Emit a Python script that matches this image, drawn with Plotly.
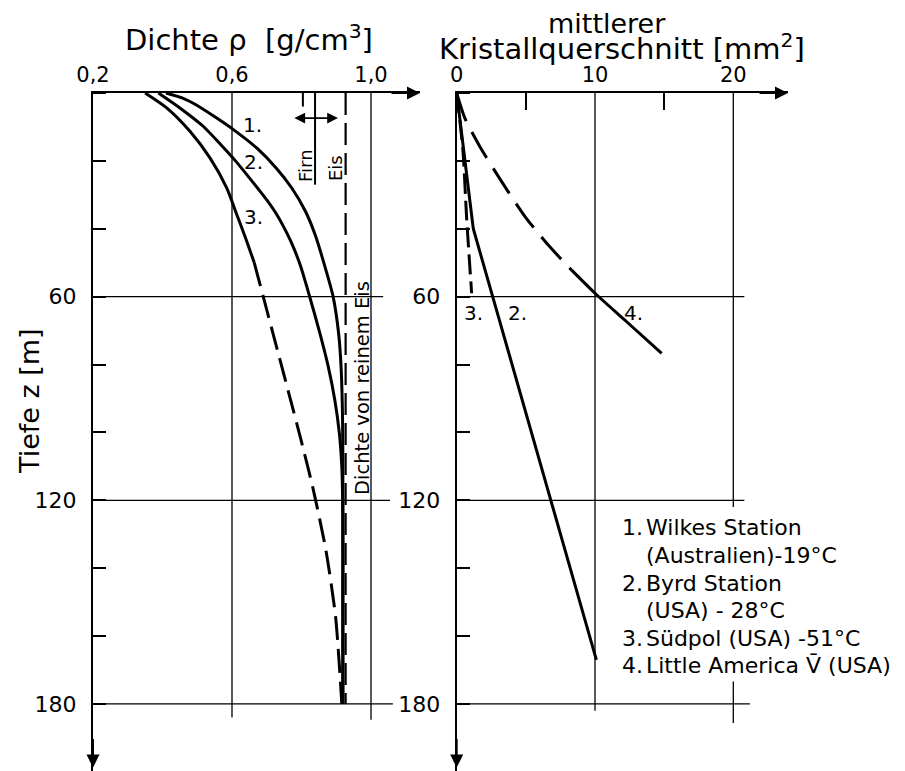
import plotly.graph_objects as go

# ---------------- data ----------------
# left panel: density rho [g/cm3] vs depth z [m]
wilkes_depth = [0, 1.5, 3.4, 7.4, 10.8, 16.2, 22.1, 28, 35, 42, 51, 60, 71, 81, 95, 110, 130, 155, 180]
wilkes_density = [0.41, 0.458, 0.495, 0.556, 0.604, 0.671, 0.727, 0.772, 0.812, 0.840, 0.867, 0.891, 0.907, 0.914, 0.918, 0.919, 0.919, 0.919, 0.919]

byrd_depth = [0, 4.4, 9.8, 15.7, 20, 25, 31.5, 36, 41.3, 46, 51.2, 59.8, 70.8, 80.6, 90.5, 100.3, 110, 125, 150, 180]
byrd_density = [0.388, 0.45, 0.517, 0.572, 0.61, 0.65, 0.70, 0.73, 0.758, 0.779, 0.798, 0.823, 0.853, 0.877, 0.896, 0.909, 0.916, 0.919, 0.919, 0.919]

suedpol_depth_solid = [0, 4.4, 11.3, 19.2, 28, 35.9, 42.7, 50]
suedpol_density_solid = [0.35, 0.412, 0.479, 0.537, 0.585, 0.614, 0.639, 0.664]
suedpol_depth_dashed = [50, 60, 72.8, 87.5, 102, 116, 134.6, 154.3, 180]
suedpol_density_dashed = [0.664, 0.690, 0.723, 0.761, 0.798, 0.832, 0.870, 0.898, 0.916]

ice_density = 0.927
ice_line_depth = [0, 180]
firn_boundary = 0.839
firn_line_depth = [0, 27]
firn_tick = 0.804
firn_tick_depth = [0, 4]
firn_arrow = [0.775, 0.905]
firn_arrow_depth = 7.4

# right panel: mean crystal cross-section [mm2] vs depth z [m]
byrd_xs_depth = [0, 40, 167]
byrd_xs = [0, 1.2, 10.1]
suedpol_xs_depth = [0, 17, 37, 59]
suedpol_xs = [0, 0.45, 0.72, 1.08]
la_xs_depth_dashed = [0, 7.5, 15.8, 26.1, 36.4, 44.8, 52.2]
la_xs_dashed = [0, 0.6, 1.68, 3.25, 4.94, 6.62, 8.31]
la_xs_depth_solid = [52.2, 59, 67.4, 76.7]
la_xs_solid = [8.31, 10.0, 12.29, 14.82]

# tick labels
rho_ticks = [0.2, 0.6, 1.0]
rho_ticktext = ["0,2", "0,6", "1,0"]
xs_ticks = [0, 10, 20]
xs_ticktext = ["0", "10", "20"]
depth_ticks = [60, 120, 180]
depth_ticktext = ["60", "120", "180"]

legend_nums = ["1.", "", "2.", "", "3.", "4."]
legend_lines = ["Wilkes Station", "(Australien)-19°C", "Byrd Station", "(USA) - 28°C",
                "Südpol (USA) -51°C", "Little America V\u0304 (USA)"]

# ---------------- layout helpers ----------------
PAGE_W, PAGE_H = 905, 771
OFF = 8  # default body margin of the html page
W, H = PAGE_W - OFF, PAGE_H - OFF
FONT = "DejaVu Sans"


def px(x):
    return (x - OFF) / W


def py(y):
    return 1 - (y - OFF) / H


X_TOP = 93  # page pixel row of the top axes
Z_SCALE = 3.394  # px per m
RHO_SCALE = 347.5  # px per g/cm3
XS_SCALE = 13.83  # px per mm2

z_max = (PAGE_H - X_TOP) / Z_SCALE
x1_l, x1_r = 93, 420
x2_l, x2_r = 456.7, 788
rho_range = [0.2, 0.2 + (x1_r - x1_l) / RHO_SCALE]
xs_range = [0, (x2_r - x2_l) / XS_SCALE]

fig = go.Figure()

BLK = "black"
CW = 3
SM = 0.7

# left curves
fig.add_trace(go.Scatter(x=wilkes_density, y=wilkes_depth, mode="lines", line=dict(color=BLK, width=CW, shape="spline", smoothing=SM), xaxis="x", yaxis="y"))
fig.add_trace(go.Scatter(x=byrd_density, y=byrd_depth, mode="lines", line=dict(color=BLK, width=CW, shape="spline", smoothing=SM), xaxis="x", yaxis="y"))
fig.add_trace(go.Scatter(x=suedpol_density_solid, y=suedpol_depth_solid, mode="lines", line=dict(color=BLK, width=CW, shape="spline", smoothing=SM), xaxis="x", yaxis="y"))
fig.add_trace(go.Scatter(x=suedpol_density_dashed, y=suedpol_depth_dashed, mode="lines", line=dict(color=BLK, width=CW, dash="24px,9px", shape="spline", smoothing=SM), xaxis="x", yaxis="y"))
fig.add_trace(go.Scatter(x=[ice_density] * len(ice_line_depth), y=ice_line_depth, mode="lines", line=dict(color=BLK, width=2.2, dash="22px,8px"), xaxis="x", yaxis="y"))
fig.add_trace(go.Scatter(x=[firn_boundary] * len(firn_line_depth), y=firn_line_depth, mode="lines", line=dict(color=BLK, width=2), xaxis="x", yaxis="y"))
fig.add_trace(go.Scatter(x=[firn_tick] * len(firn_tick_depth), y=firn_tick_depth, mode="lines", line=dict(color=BLK, width=2), xaxis="x", yaxis="y"))

# right curves
fig.add_trace(go.Scatter(x=byrd_xs, y=byrd_xs_depth, mode="lines", line=dict(color=BLK, width=CW), xaxis="x2", yaxis="y2"))
fig.add_trace(go.Scatter(x=suedpol_xs, y=suedpol_xs_depth, mode="lines", line=dict(color=BLK, width=CW, dash="20px,7px", shape="spline", smoothing=SM), xaxis="x2", yaxis="y2"))
fig.add_trace(go.Scatter(x=la_xs_dashed, y=la_xs_depth_dashed, mode="lines", line=dict(color=BLK, width=CW, dash="30px,12px", shape="spline", smoothing=SM), xaxis="x2", yaxis="y2"))
fig.add_trace(go.Scatter(x=la_xs_solid, y=la_xs_depth_solid, mode="lines", line=dict(color=BLK, width=CW, shape="spline", smoothing=SM), xaxis="x2", yaxis="y2"))

# grid lines (drawn as shapes in data coordinates)
GW = 1.3
for z, xe in [(60, 1.035), (120, 1.055), (180, 1.063)]:
    fig.add_shape(type="line", xref="x", yref="y", x0=0.2, x1=xe, y0=z, y1=z, line=dict(color=BLK, width=GW))
for xv, ze in [(0.6, 184), (1.0, 184.7)]:
    fig.add_shape(type="line", xref="x", yref="y", x0=xv, x1=xv, y0=0, y1=ze, line=dict(color=BLK, width=GW))
for z, xe in [(60, 20.8), (120, 20.8), (180, 21.2)]:
    fig.add_shape(type="line", xref="x2", yref="y2", x0=0, x1=xe, y0=z, y1=z, line=dict(color=BLK, width=GW))
for xv, z0, z1 in [(10, 0, 182), (20, 0, 122), (20, 173.4, 185.6)]:
    fig.add_shape(type="line", xref="x2", yref="y2", x0=xv, x1=xv, y0=z0, y1=z1, line=dict(color=BLK, width=GW))

tickfont = dict(family=FONT, size=21, color=BLK)
ytickfont = dict(family=FONT, size=22, color=BLK)

common_y = dict(range=[z_max, 0], domain=[0, py(X_TOP)], showgrid=False, zeroline=False,
                showline=True, linecolor=BLK, linewidth=2.2,
                tickvals=depth_ticks, ticktext=depth_ticktext, ticks="", tickfont=ytickfont,
                ticklabelstandoff=10,
                minor=dict(dtick=20, tick0=0, ticks="inside", ticklen=13, tickwidth=1.5, tickcolor=BLK, showgrid=False))

fig.update_layout(
    width=W, height=H, margin=dict(l=0, r=0, t=0, b=0, autoexpand=False),
    paper_bgcolor="white", plot_bgcolor="white", showlegend=False,
    xaxis=dict(domain=[px(x1_l), px(x1_r)], range=rho_range, side="top", anchor="y",
               showgrid=False, zeroline=False, showline=True, linecolor=BLK, linewidth=2.2,
               tickvals=rho_ticks, ticktext=rho_ticktext, ticks="", tickfont=tickfont, ticklabelstandoff=1),
    yaxis=dict(anchor="x", **common_y),
    xaxis2=dict(domain=[px(x2_l), px(x2_r)], range=xs_range, side="top", anchor="y2",
                showgrid=False, zeroline=False, showline=True, linecolor=BLK, linewidth=2.2,
                tickvals=xs_ticks, ticktext=xs_ticktext, ticks="", tickfont=tickfont, ticklabelstandoff=1,
                minor=dict(dtick=10, tick0=5, ticks="inside", ticklen=17, tickwidth=1.5, tickcolor=BLK, showgrid=False)),
    yaxis2=dict(anchor="x2", **common_y),
)

ann = []
# axis arrows
arrow = dict(showarrow=True, arrowhead=2, arrowsize=1.3, arrowwidth=2, arrowcolor=BLK, text="")
ann.append(dict(x=rho_range[1], y=0, xref="x", yref="y", ax=-30, ay=0, **arrow))
ann.append(dict(x=xs_range[1], y=0, xref="x2", yref="y2", ax=-30, ay=0, **arrow))
ann.append(dict(x=0.2, y=z_max - 1, xref="x", yref="y", ax=0, ay=-30, **arrow))
ann.append(dict(x=0, y=z_max - 1, xref="x2", yref="y2", ax=0, ay=-30, **arrow))
# firn / eis double arrow
ann.append(dict(x=firn_arrow[1], y=firn_arrow_depth, ax=firn_arrow[0], ay=firn_arrow_depth, xref="x", yref="y",
                axref="x", ayref="y", showarrow=True, arrowhead=2, arrowside="end+start", arrowsize=1.2,
                arrowwidth=1.8, arrowcolor=BLK, text=""))

# titles
ann.append(dict(x=px(249), y=py(38), xref="paper", yref="paper", text="Dichte ρ  [g/cm<sup>3</sup>]", showarrow=False,
                font=dict(family=FONT, size=29, color=BLK), xanchor="center", yanchor="middle"))
ann.append(dict(x=px(607), y=py(23), xref="paper", yref="paper", text="mittlerer", showarrow=False,
                font=dict(family=FONT, size=27, color=BLK), xanchor="center", yanchor="middle"))
ann.append(dict(x=px(622), y=py(47), xref="paper", yref="paper", text="Kristallquerschnitt [mm<sup>2</sup>]", showarrow=False,
                font=dict(family=FONT, size=29, color=BLK), xanchor="center", yanchor="middle"))
ann.append(dict(x=px(29), y=py(401), xref="paper", yref="paper", text="Tiefe z [m]", showarrow=False, textangle=-90,
                font=dict(family=FONT, size=27, color=BLK), xanchor="center", yanchor="middle"))
ann.append(dict(x=px(362), y=py(388), xref="paper", yref="paper", text="Dichte von reinem Eis", showarrow=False, textangle=-90,
                font=dict(family=FONT, size=19.5, color=BLK), xanchor="center", yanchor="middle"))
ann.append(dict(x=px(305), y=py(166), xref="paper", yref="paper", text="Firn", showarrow=False, textangle=-90,
                font=dict(family=FONT, size=18, color=BLK), xanchor="center", yanchor="middle"))
ann.append(dict(x=px(335), y=py(168), xref="paper", yref="paper", text="Eis", showarrow=False, textangle=-90,
                font=dict(family=FONT, size=18, color=BLK), xanchor="center", yanchor="middle"))

# curve labels
lab = dict(family=FONT, size=20, color=BLK)
for t, x, z in [("1.", 0.642, 9.4), ("2.", 0.646, 20.2), ("3.", 0.646, 36.4)]:
    ann.append(dict(x=x, y=z, xref="x", yref="y", text=t, showarrow=False, font=lab, xanchor="left", yanchor="middle", xshift=-6))
for t, x, z in [("3.", 1.18, 64.8), ("2.", 4.36, 64.8), ("4.", 12.75, 64.8)]:
    ann.append(dict(x=x, y=z, xref="x2", yref="y2", text=t, showarrow=False, font=lab, xanchor="center", yanchor="middle"))

# legend text block
leg_font = dict(family=FONT, size=22, color=BLK)
leg_y = [527, 555, 583, 610, 638, 665]
for num, line, yy in zip(legend_nums, legend_lines, leg_y):
    if num:
        ann.append(dict(x=px(620), y=py(yy), xref="paper", yref="paper", text=num, showarrow=False, font=leg_font, xanchor="left", yanchor="middle"))
    ann.append(dict(x=px(644), y=py(yy), xref="paper", yref="paper", text=line, showarrow=False, font=leg_font, xanchor="left", yanchor="middle"))

fig.update_layout(annotations=ann)
fig.write_html("out.html")
